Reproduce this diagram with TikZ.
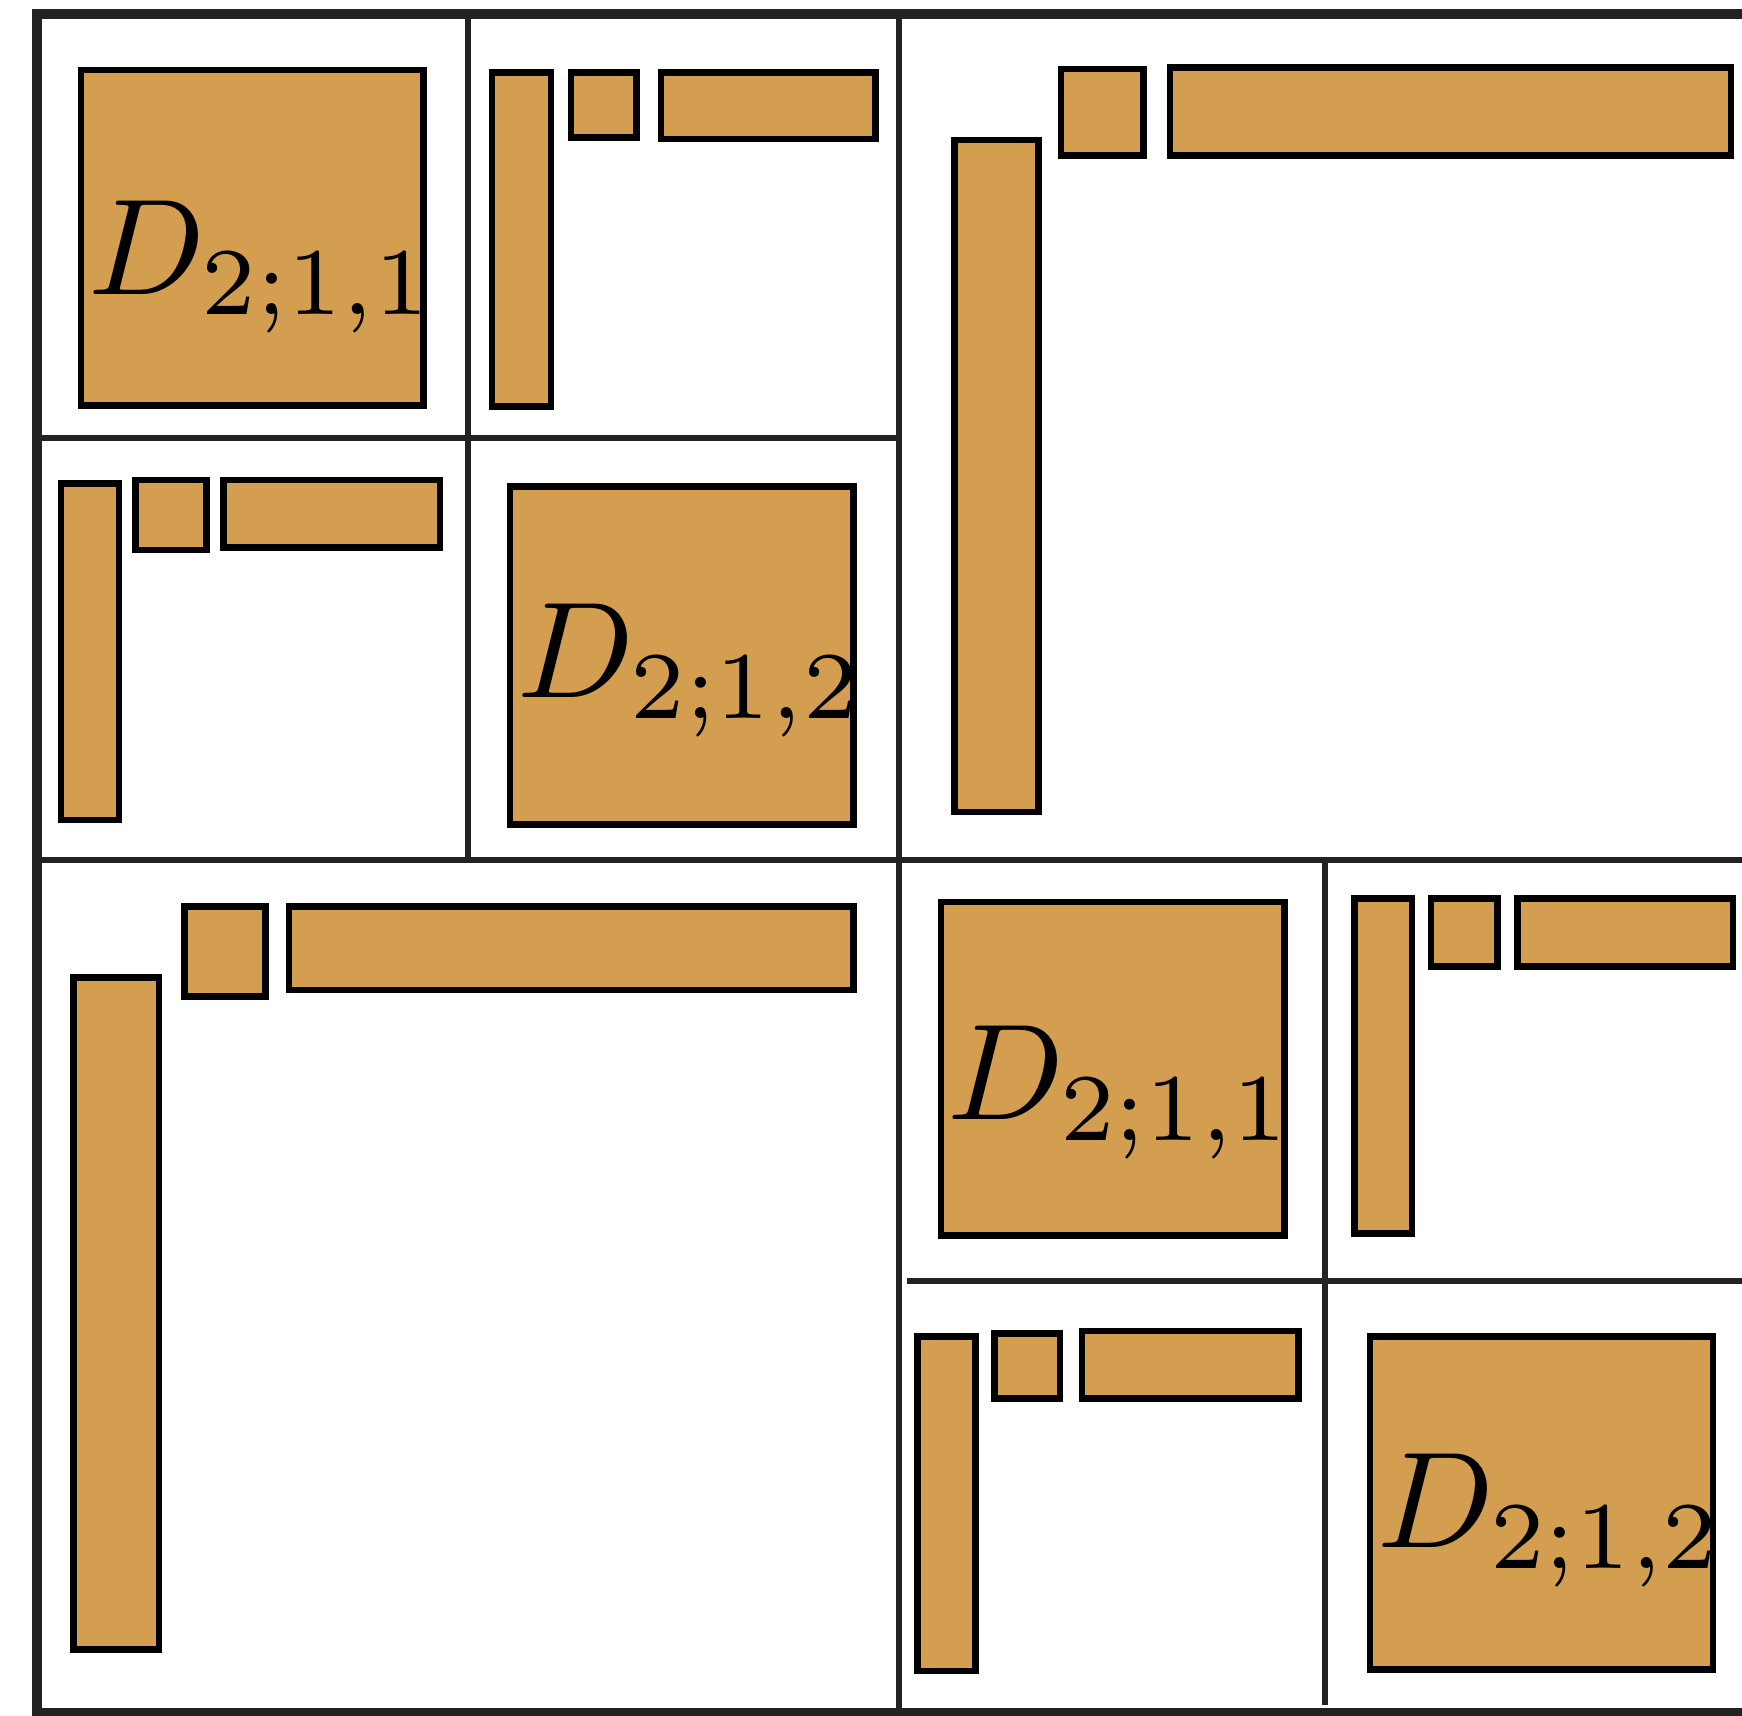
\documentclass[tikz,border=0pt]{standalone}
\usepackage{graphicx}
\definecolor{blkfill}{RGB}{211,158,80}
\definecolor{gridc}{RGB}{34,34,34}
\newcommand{\biglbl}[1]{\scalebox{3.5}{$#1$}}
\begin{document}
\begin{tikzpicture}[x=0.01cm,y=-0.01cm,
  blk/.style={draw=black,fill=blkfill,line width=1.7pt},
  gridln/.style={draw=gridc,line width=1.5pt},
  framel/.style={draw=gridc,line width=2.6pt},
  lbl/.style={anchor=base west,inner sep=0pt}]
\useasboundingbox (0,0) rectangle (1568,1544);
\clip (0,0) rectangle (1568,1544);
% frame
\draw[framel] (1600,12.5) -- (33,12.5) -- (33,1542) -- (1600,1542);
% grid lines
\draw[gridln] (809,12) -- (809,1542);
\draw[gridln] (33,774) -- (1600,774);
\draw[gridln] (421,12) -- (421,774);
\draw[gridln] (33,394) -- (809,394);
\draw[gridln] (1193,774) -- (1193,1535);
\draw[gridln] (816,1153) -- (1600,1153);
% top-left quadrant
\draw[blk] (73,63) rectangle (381,365);
\node[lbl] (l1) at (79,265) {\biglbl{D_{2;1,1}}};
\draw[blk] (443,65) rectangle (496,366);
\draw[blk] (514,65) rectangle (573,124);
\draw[blk] (595,65) rectangle (788,125);
\draw[blk] (55,435) rectangle (107,738);
\draw[blk] (122,432) rectangle (186,495);
\draw[blk] (201,432) rectangle (396,493);
\draw[blk] (459,438) rectangle (768,742);
\node[lbl] (l2) at (465,628) {\biglbl{D_{2;1,2}}};
% top-right quadrant
\draw[blk] (859,126) rectangle (935,731);
\draw[blk] (955,62) rectangle (1029,140);
\draw[blk] (1053,61) rectangle (1558,140);
% bottom-left quadrant
\draw[blk] (66,880) rectangle (143,1485);
\draw[blk] (166,816) rectangle (239,897);
\draw[blk] (260,816) rectangle (768,891);
% bottom-right quadrant
\draw[blk] (847,812) rectangle (1156,1112);
\node[lbl] (l3) at (852,1008) {\biglbl{D_{2;1,1}}};
\draw[blk] (1219,809) rectangle (1271,1110);
\draw[blk] (1288,809) rectangle (1348,870);
\draw[blk] (1366,809) rectangle (1560,870);
\draw[blk] (826,1203) rectangle (878,1504);
\draw[blk] (895,1200) rectangle (954,1259);
\draw[blk] (974,1198) rectangle (1169,1259);
\draw[blk] (1233,1203) rectangle (1542,1503);
\node[lbl] (l4) at (1239,1393) {\biglbl{D_{2;1,2}}};
\end{tikzpicture}
\end{document}
